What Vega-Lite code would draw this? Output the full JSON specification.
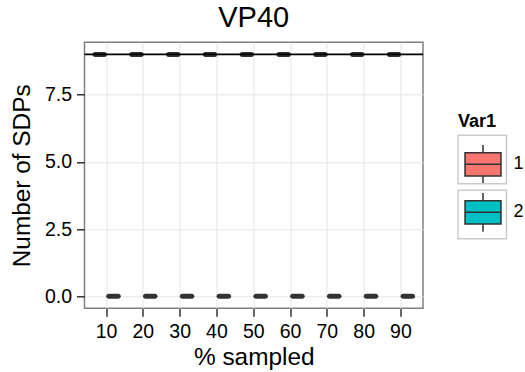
{
  "$schema": "https://vega.github.io/schema/vega-lite/v6.json",
  "autosize": "none",
  "width": 338.5,
  "height": 266,
  "padding": {"left": 84.5, "top": 42.3, "right": 102, "bottom": 63.7},
  "background": "white",
  "title": {
    "text": "VP40",
    "anchor": "middle",
    "fontSize": 29,
    "fontWeight": "normal",
    "color": "black",
    "baseline": "alphabetic",
    "offset": -14
  },
  "datasets": {
    "sdp": [
      {"sampled": 10, "Var1": "1", "SDPs": 9},
      {"sampled": 20, "Var1": "1", "SDPs": 9},
      {"sampled": 30, "Var1": "1", "SDPs": 9},
      {"sampled": 40, "Var1": "1", "SDPs": 9},
      {"sampled": 50, "Var1": "1", "SDPs": 9},
      {"sampled": 60, "Var1": "1", "SDPs": 9},
      {"sampled": 70, "Var1": "1", "SDPs": 9},
      {"sampled": 80, "Var1": "1", "SDPs": 9},
      {"sampled": 90, "Var1": "1", "SDPs": 9},
      {"sampled": 10, "Var1": "2", "SDPs": 0},
      {"sampled": 20, "Var1": "2", "SDPs": 0},
      {"sampled": 30, "Var1": "2", "SDPs": 0},
      {"sampled": 40, "Var1": "2", "SDPs": 0},
      {"sampled": 50, "Var1": "2", "SDPs": 0},
      {"sampled": 60, "Var1": "2", "SDPs": 0},
      {"sampled": 70, "Var1": "2", "SDPs": 0},
      {"sampled": 80, "Var1": "2", "SDPs": 0},
      {"sampled": 90, "Var1": "2", "SDPs": 0}
    ],
    "truth": [{"SDPs": 9}]
  },
  "layer": [
    {
      "data": {"name": "sdp"},
      "mark": {"type": "bar", "stroke": "#333333", "strokeWidth": 1.5},
      "encoding": {
        "x": {
          "field": "sampled",
          "type": "ordinal",
          "title": "% sampled",
          "scale": {"paddingInner": 0.25, "paddingOuter": 0.225},
          "axis": {
            "labelAngle": 0,
            "grid": true,
            "gridColor": "#e5e5e5",
            "gridWidth": 1,
            "tickColor": "#333333",
            "tickSize": 8,
            "tickWidth": 1.5,
            "domain": false,
            "labelFontSize": 19.5,
            "labelColor": "black",
            "labelPadding": 6,
            "titleFontSize": 24.4,
            "titleFontWeight": "normal",
            "titleColor": "black",
            "titlePadding": 5
          }
        },
        "xOffset": {
          "field": "Var1",
          "type": "nominal",
          "scale": {"paddingInner": 0, "paddingOuter": 0}
        },
        "y": {
          "field": "SDPs",
          "type": "quantitative",
          "title": "Number of SDPs",
          "scale": {"domain": [-0.45, 9.45], "nice": false, "zero": false},
          "axis": {
            "values": [0, 1.25, 2.5, 3.75, 5, 6.25, 7.5, 8.75],
            "labelExpr": "datum.value % 2.5 === 0 ? format(datum.value, '.1f') : ''",
            "grid": true,
            "gridColor": {
              "condition": {"test": "datum.value % 2.5 === 0", "value": "#e5e5e5"},
              "value": "#f4f4f4"
            },
            "gridWidth": 1,
            "tickOpacity": {
              "condition": {"test": "datum.value % 2.5 === 0", "value": 1},
              "value": 0
            },
            "tickColor": "#333333",
            "tickSize": 8,
            "tickWidth": 1.5,
            "domain": false,
            "labelFontSize": 19.5,
            "labelColor": "black",
            "labelPadding": 5,
            "titleFontSize": 24.4,
            "titleFontWeight": "normal",
            "titleColor": "black",
            "titlePadding": 10
          }
        },
        "y2": {"field": "SDPs"},
        "fill": {
          "field": "Var1",
          "type": "nominal",
          "scale": {"range": ["#F8766D", "#00BFC4"]},
          "legend": {
            "title": "Var1",
            "orient": "none",
            "legendX": 373.5,
            "legendY": 71,
            "padding": 0,
            "titleFontSize": 18,
            "titleFontWeight": "bold",
            "titleColor": "black",
            "titlePadding": 8,
            "symbolType": "M-0.742,-0.48H0.742V0.48H-0.742Z M-0.742,0H0.742 M0,-0.48V-0.8 M0,0.48V0.8",
            "symbolSize": 2352,
            "symbolStrokeColor": "#333333",
            "symbolStrokeWidth": 1.5,
            "symbolOpacity": 1,
            "labelFontSize": 18,
            "labelColor": "black",
            "labelOffset": 5.5,
            "rowPadding": 0
          }
        }
      }
    },
    {
      "data": {"name": "sdp"},
      "mark": {"type": "tick", "color": "#333333", "opacity": 1, "thickness": 5, "size": 14.5, "cornerRadius": 2.5, "orient": "horizontal"},
      "encoding": {
        "x": {"field": "sampled", "type": "ordinal"},
        "xOffset": {"field": "Var1", "type": "nominal"},
        "y": {"field": "SDPs", "type": "quantitative"}
      }
    },
    {
      "data": {"name": "truth"},
      "mark": {"type": "rule", "color": "black", "strokeWidth": 1.6},
      "encoding": {
        "y": {"field": "SDPs", "type": "quantitative"}
      }
    },
    {
      "data": {"name": "sdp"},
      "mark": {"type": "point", "opacity": 0, "filled": false},
      "encoding": {
        "x": {"field": "sampled", "type": "ordinal"},
        "y": {"field": "SDPs", "type": "quantitative"},
        "stroke": {
          "field": "Var1",
          "type": "nominal",
          "scale": {"domain": ["1", "2"], "range": ["#cccccc", "#cccccc"]},
          "legend": {
            "title": null,
            "orient": "none",
            "legendX": 378.25,
            "legendY": 97.7,
            "padding": 0,
            "symbolType": "M-1.3,-1.3H1.3V1.3H-1.3Z",
            "symbolSize": 1392,
            "symbolStrokeWidth": 1.5,
            "symbolFillColor": "transparent",
            "labelOffset": 0,
            "labelFontSize": 1,
            "labelExpr": "''",
            "rowPadding": 0,
            "encode": {
              "symbols": {
                "update": {
                  "opacity": {"value": 1},
                  "stroke": {"value": "#cccccc"},
                  "strokeWidth": {"value": 1.5},
                  "fill": {"value": "transparent"},
                  "shape": {"value": "M-1.3,-1.3H1.3V1.3H-1.3Z"},
                  "size": {"value": 1392}
                }
              }
            }
          }
        }
      }
    }
  ],
  "config": {
    "font": "Liberation Sans",
    "view": {"stroke": "#808080", "strokeWidth": 1.5}
  }
}
